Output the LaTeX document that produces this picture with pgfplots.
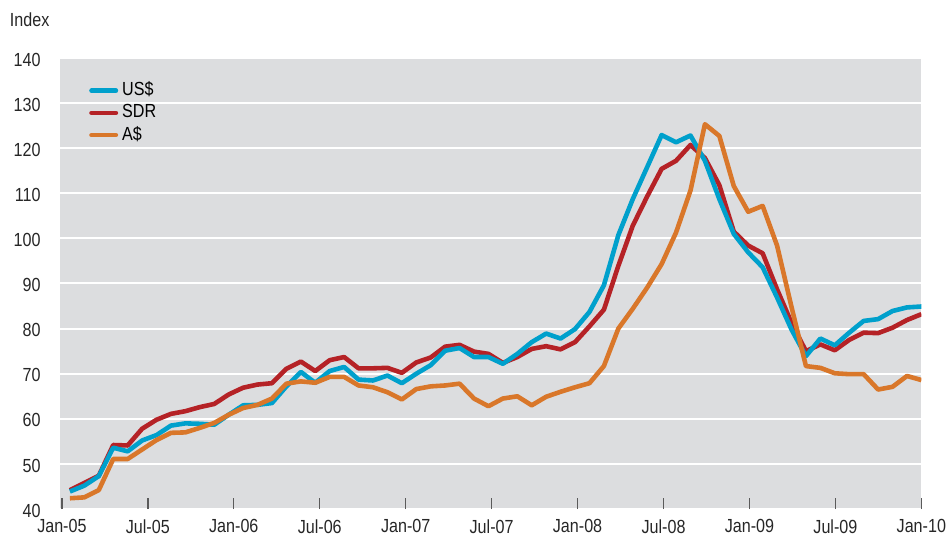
\documentclass[border=0pt]{standalone}
\usepackage{fontspec}
\setmainfont{Liberation Sans}[FakeStretch=0.85]
\usepackage{pgfplots}
\usepackage{pgfplotstable}
\pgfplotsset{compat=1.18}
\definecolor{usd}{RGB}{0,160,204}
\definecolor{sdr}{RGB}{181,34,38}
\definecolor{aud}{RGB}{217,119,42}
\definecolor{bg}{RGB}{220,221,223}
\definecolor{tickc}{RGB}{90,90,90}
\pgfplotstableread{
usd sdr aud
43.9 44.2 42.4
45.2 45.8 42.6
47.3 47.4 44.2
53.6 54.2 51.1
52.8 54.1 51.1
55.2 57.8 53.2
56.4 59.8 55.3
58.5 61.1 56.9
59.0 61.7 57.0
58.9 62.6 58.0
58.7 63.3 59.1
60.9 65.4 60.9
63.0 66.9 62.4
63.1 67.6 63.1
63.5 67.9 64.5
67.2 71.1 67.8
70.4 72.7 68.3
68.0 70.6 68.0
70.6 73.0 69.3
71.5 73.7 69.3
68.7 71.2 67.4
68.5 71.2 67.0
69.6 71.3 65.9
67.9 70.2 64.3
70.0 72.5 66.6
71.9 73.6 67.2
75.1 76.0 67.4
75.7 76.4 67.8
73.7 74.9 64.5
73.7 74.4 62.8
72.2 72.4 64.5
74.4 73.7 65.0
77.0 75.5 63.0
78.9 76.1 64.9
77.8 75.4 66.0
79.9 77.0 67.0
83.7 80.5 67.9
89.6 84.2 71.7
100.7 93.9 80.0
108.7 102.8 84.4
115.8 109.3 89.1
122.9 115.4 94.3
121.3 117.2 101.3
122.8 120.7 110.6
117.2 117.8 125.3
108.7 111.8 122.7
101.0 101.5 111.6
96.9 98.4 105.9
93.6 96.7 107.2
86.9 88.7 98.4
79.8 81.3 84.8
73.9 75.0 71.7
77.8 76.5 71.3
76.3 75.2 70.1
79.1 77.5 69.9
81.7 79.1 69.9
82.1 79.0 66.5
83.9 80.2 67.1
84.7 81.9 69.5
84.9 83.2 68.6
}\data
\begin{document}
\fontsize{9.5}{11}\selectfont
\begin{tikzpicture}
\begin{axis}[
  scale only axis, width=431.5pt, height=226pt,
  xmin=-0.14, xmax=60, ymin=40, ymax=140,
  axis background/.style={fill=bg},
  axis line style={draw=none},
  ytick={40,50,...,140},
  ymajorgrids, grid style={white, line width=1pt},
  ytick style={draw=none},
  xtick={0,6,...,60},
  xticklabels={Jan-05,Jul-05,Jan-06,Jul-06,Jan-07,Jul-07,Jan-08,Jul-08,Jan-09,Jul-09,Jan-10},
  xtick pos=bottom, tick align=inside, major tick length=5.5pt,
  xtick style={draw=tickc, line width=0.7pt},
  /pgf/number format/assume math mode=true,
  tick label style={font=\fontsize{9.5}{11}\selectfont, text=black!85},
  yticklabel style={anchor=east, inner sep=0pt, xshift=-9.5pt, yshift=-0.8pt},
  xticklabel style={anchor=north, inner sep=0pt, yshift=-5pt},
  legend cell align=left,
  legend style={at={(axis description cs:0.0336,0.948)}, anchor=north west,
    draw=none, fill=none, inner sep=0pt, row sep=2.1pt,
    font=\fontsize{9.5}{11}\selectfont,
    nodes={inner sep=0pt, text height=7pt, text depth=2pt},
    /tikz/every odd column/.append style={column sep=2pt}},
  legend image code/.code={\draw[#1, line cap=round] (1.15pt,0pt) -- (13.35pt,0pt);},
  every axis plot/.append style={line width=2.3pt, line join=round},
]
\addlegendimage{color=usd, line width=2.3pt}
\addlegendentry{US\$}
\addlegendimage{color=sdr, line width=2.3pt}
\addlegendentry{SDR}
\addlegendimage{color=aud, line width=2.3pt}
\addlegendentry{A\$}
\addplot[color=sdr, forget plot] table[x expr=0.56+1.0075*\coordindex, y=sdr] {\data};
\addplot[color=usd, forget plot] table[x expr=0.56+1.0075*\coordindex, y=usd] {\data};
\addplot[color=aud, forget plot] table[x expr=0.56+1.0075*\coordindex, y=aud] {\data};
\end{axis}
\node[anchor=base west, inner sep=0pt, text=black!85] at (-25.2pt,241.5pt) {Index};
\path (-30pt,-13.5pt) rectangle (443pt,255pt);
\end{tikzpicture}
\end{document}
